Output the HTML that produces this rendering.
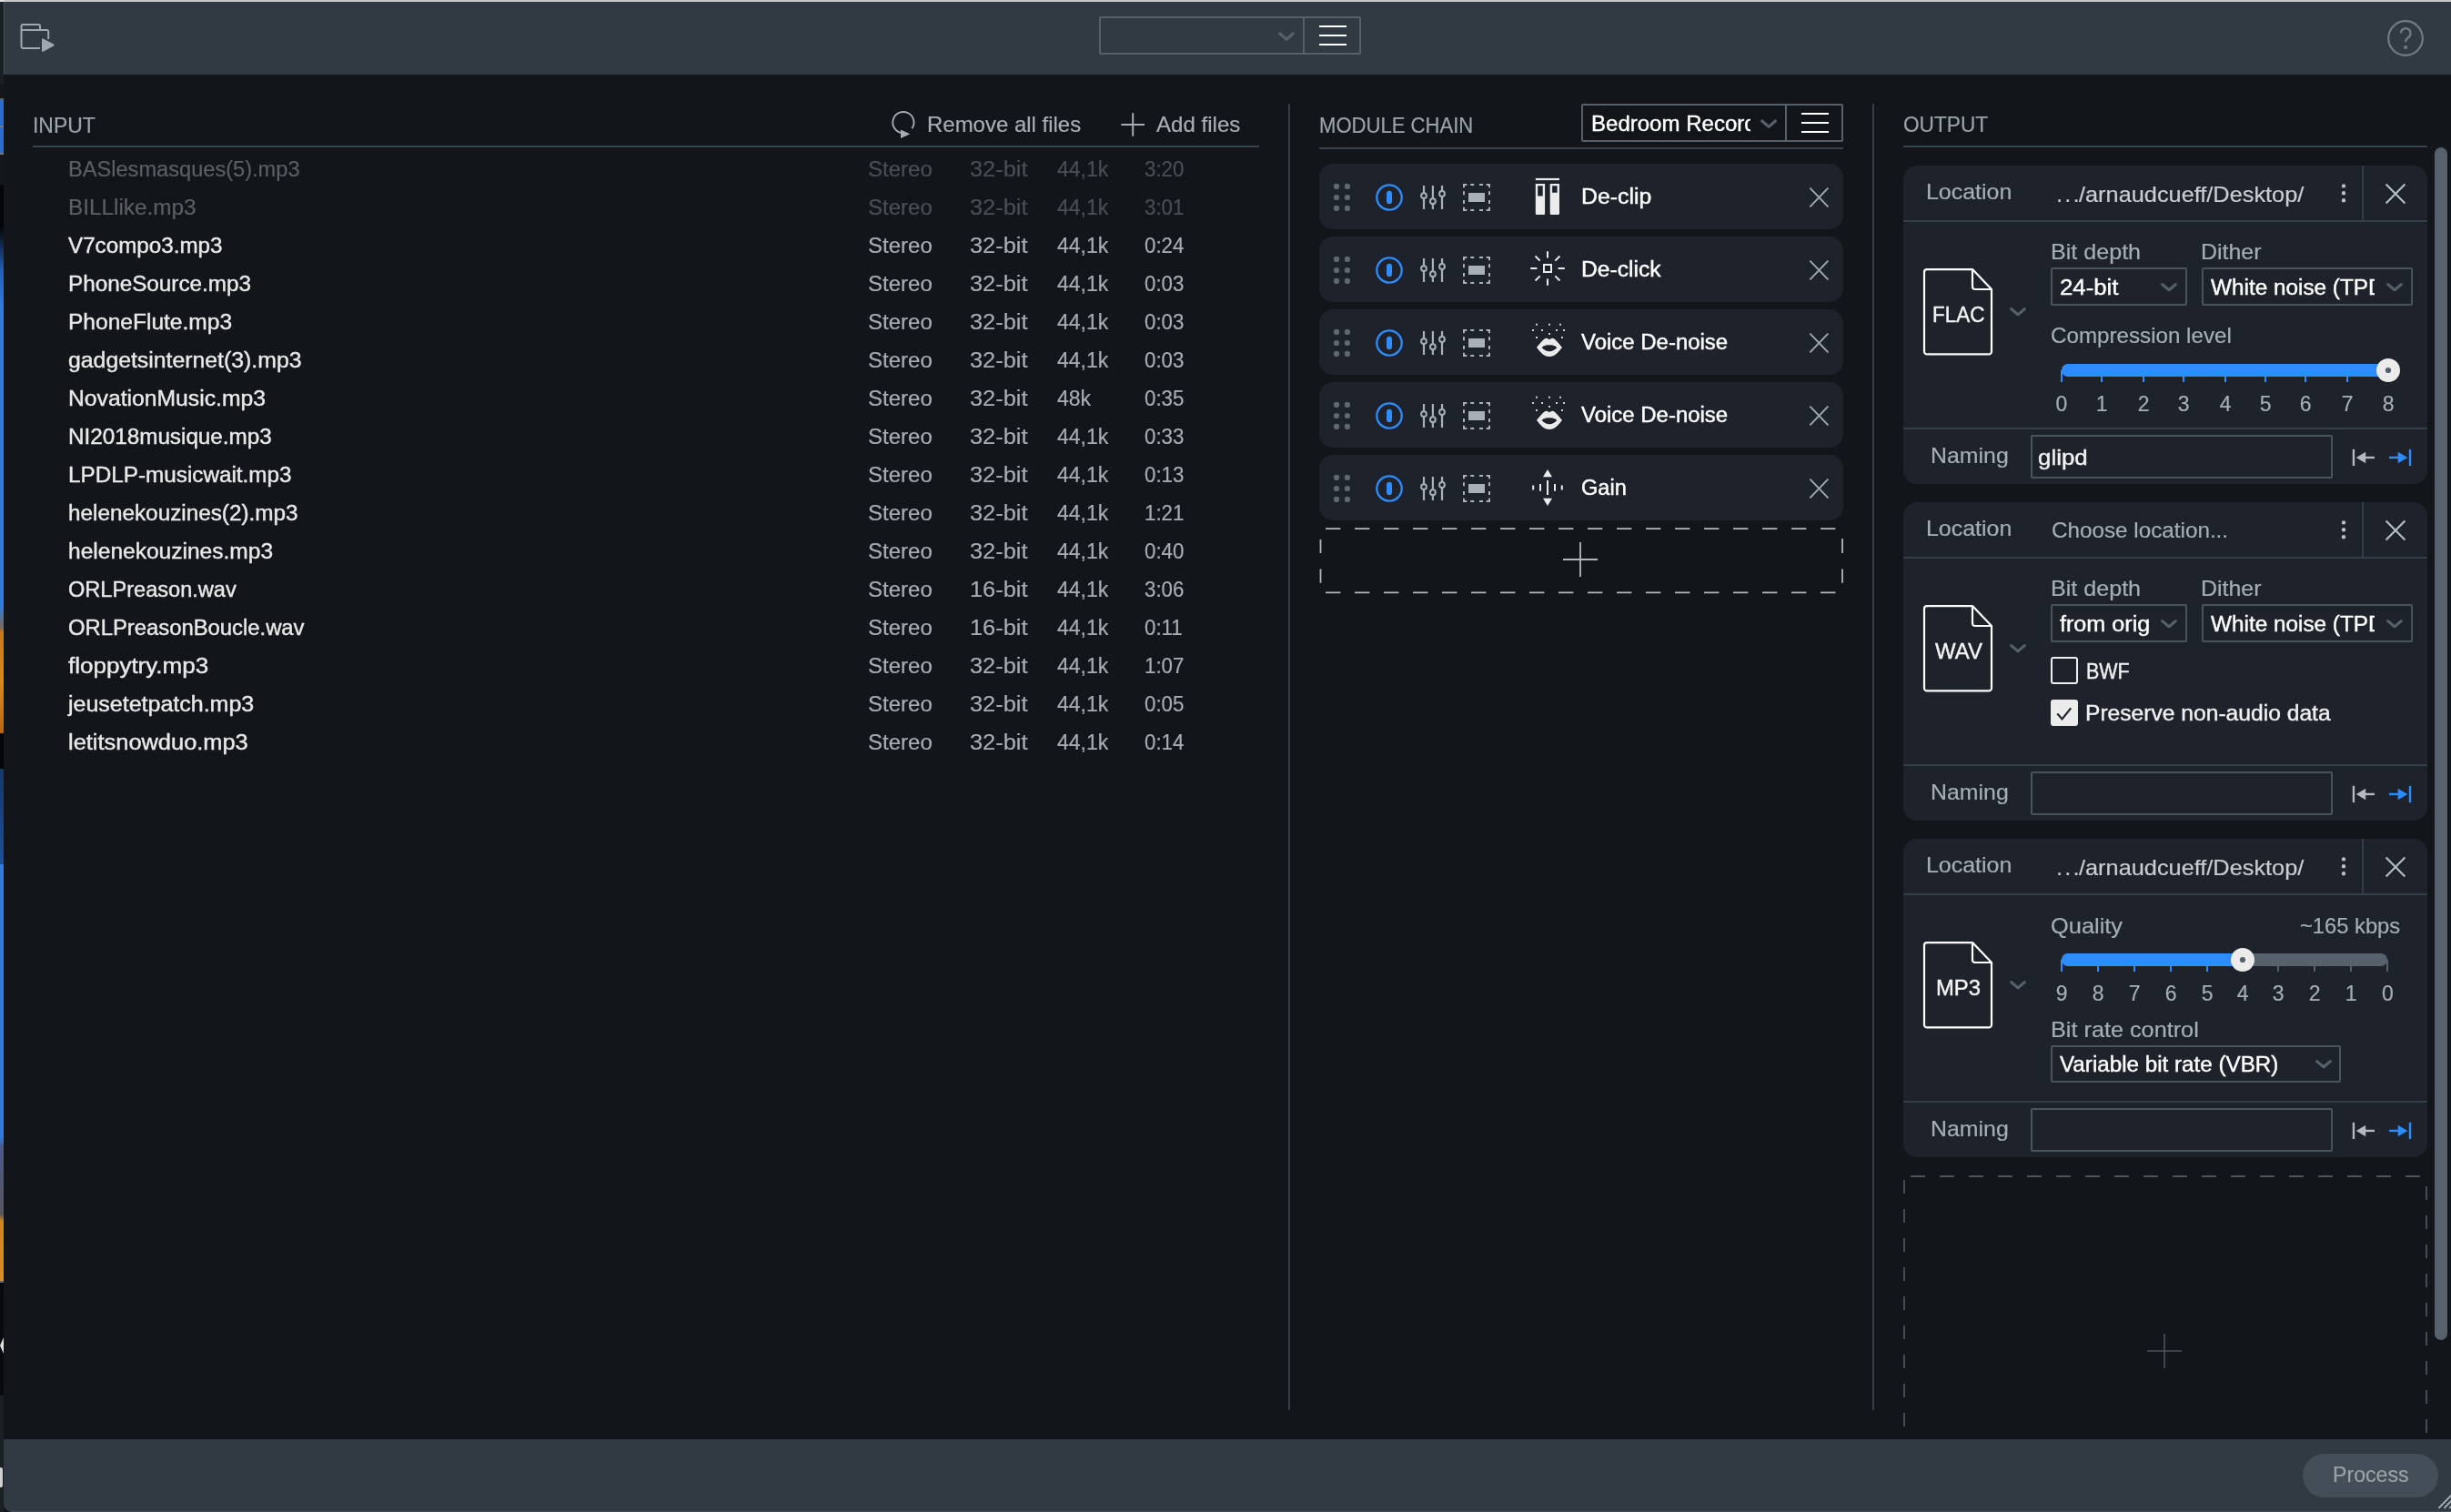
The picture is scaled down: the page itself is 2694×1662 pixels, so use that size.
<!DOCTYPE html>
<html><head><meta charset="utf-8"><title>Batch Processor</title>
<style>
html,body{margin:0;padding:0;background:#12151a;}
body{width:2694px;height:1662px;position:relative;overflow:hidden;font-family:"Liberation Sans",sans-serif;}
#r{position:absolute;left:0;top:0;width:2694px;height:1662px;overflow:hidden;will-change:transform;}
#r div,#r svg,#r span.t{position:absolute;display:block;}
#r span.t{white-space:nowrap;transform-origin:0 50%;-webkit-text-stroke:0.2px currentColor;}
</style></head><body><div id="r">
<div style="left:4px;top:0px;width:2690px;height:2px;background:#c9c9c9;"></div>
<div style="left:0px;top:0px;width:4px;height:2px;background:#e0e0e0;"></div>
<div style="left:0;top:2px;width:4px;height:1660px;background:linear-gradient(to bottom,#1b2024 0px,#1b2024 90px,#14181c 90px,#14181c 106px,#5a5f64 106px,#5a5f64 108px,#2a6fd0 108px,#2a6fd0 136px,#777 136px,#777 138px,#2a6fd0 138px,#2a6fd0 166px,#777 166px,#777 168px,#14181c 168px,#14181c 201px,#050608 201px,#050608 248px,#2463bd 298px,#2f7be0 338px,#2f7be0 663px,#7a6a5a 688px,#c87a14 693px,#d88a18 748px,#b8680f 804px,#050608 804px,#050608 843px,#17386b 843px,#1d4f99 948px,#2f7be0 948px,#2f7be0 1248px,#4a5a8a 1258px,#5a5560 1333px,#d08518 1340px,#d89020 1406px,#666 1406px,#666 1408px,#08090c 1408px,#08090c 1532px,#1b2024 1532px,#1b2024 1660px)"></div>
<svg style="left:0px;top:1466px;" width="4" height="26" viewBox="0 0 4 26"><path d="M4 4 L0 13 L4 22 Z" fill="#e0e0e0"/></svg>
<div style="left:0px;top:1613px;width:3px;height:22px;background:#d0d0d0;border-radius:0 2px 2px 0"></div>
<div style="left:4px;top:2px;width:2690px;height:80px;background:#313943;"></div>
<div style="left:4px;top:2px;width:1px;height:80px;background:#4a545e;"></div>
<div style="left:4px;top:1582px;width:2690px;height:80px;background:#313943;border-bottom-left-radius:9px"></div>
<svg style="left:18px;top:22px;" width="48" height="40" viewBox="0 0 48 40"><path d="M26 31 H7.3 a1.8 1.8 0 0 1 -1.8 -1.8 V6.8 a1.8 1.8 0 0 1 1.8 -1.8 H24.2 a1.8 1.8 0 0 1 1.8 1.8 V11 H33.4 a1.8 1.8 0 0 1 1.8 1.8 V21 M5.5 11 H26" fill="none" stroke="#a0a6ad" stroke-width="2"/><path d="M29 21.3 L40.5 27.5 L29 33.8 Z" fill="#a0a6ad" stroke="#a0a6ad" stroke-width="2" stroke-linejoin="round"/></svg>
<div style="left:1208px;top:18px;width:284px;height:38px;border:2px solid #56616c;border-radius:2px;"></div>
<div style="left:1432px;top:19px;width:2px;height:40px;background:#56616c;"></div>
<svg style="left:1400px;top:30px;" width="30" height="20" viewBox="0 0 30 20"><path d="M6.7 6.9 L14 13.2 L21.3 6.9" fill="none" stroke="#56616c" stroke-width="3.2" stroke-linecap="round" stroke-linejoin="round"/></svg>
<div style="left:1450px;top:28px;width:30px;height:2px;background:#ffffff;"></div>
<div style="left:1450px;top:38px;width:30px;height:2px;background:#ffffff;"></div>
<div style="left:1450px;top:48px;width:30px;height:2px;background:#ffffff;"></div>
<svg style="left:2620px;top:18px;" width="48" height="48" viewBox="0 0 48 48"><circle cx="24" cy="24" r="18.8" fill="none" stroke="#6f7b87" stroke-width="2.2"/><path d="M18.8 18.6 a5.4 5.4 0 1 1 8.5 4.4 c-2.2 1.5 -3.1 2.4 -3.1 4.4 v0.8" fill="none" stroke="#6f7b87" stroke-width="2.2"/><circle cx="24.1" cy="34" r="2.1" fill="#6f7b87"/></svg>
<div style="left:2530.5px;top:1598px;width:149px;height:47.5px;background:#444e58;border-radius:24px"></div>
<span class="t" style="left:2564.30px;top:1609.81px;font-size:23.5px;line-height:23.5px;color:#9aa0a6;transform:scaleX(0.9843);">Process</span>
<svg style="left:2660px;top:1632px;" width="34" height="30" viewBox="0 0 34 30"><path d="M20.4 25.8 L34.5 11.4 M26.4 25.8 L34.5 17.6 M32.3 25.8 L34.5 23.6" stroke="#a9b2bd" stroke-width="1.8" fill="none"/></svg>
<div style="left:12px;top:1661px;width:2682px;height:1px;background:#454f59;"></div>
<span class="t" style="left:35.80px;top:127.06px;font-size:23.2px;line-height:23.2px;color:#9aa2aa;transform:scaleX(0.9885);">INPUT</span>
<div style="left:36px;top:160px;width:1348px;height:2px;background:#38424c;"></div>
<div style="left:1416px;top:114px;width:2px;height:1436px;background:#353f48;"></div>
<div style="left:2058px;top:114px;width:2px;height:1436px;background:#353f48;"></div>
<svg style="left:970px;top:116px;" width="44" height="40" viewBox="0 0 44 40"><path d="M32.40 25.25 A11.6 11.6 0 1 0 20.89 30.02" fill="none" stroke="#a7adb4" stroke-width="1.9"/><path d="M20 26.5 L30.4 31.3 L20 36 Z" fill="#a7adb4"/></svg>
<span class="t" style="left:1019.40px;top:125.96px;font-size:23.2px;line-height:23.2px;color:#a7adb4;transform:scaleX(1.0336);">Remove all files</span>
<svg style="left:1230px;top:122px;" width="30" height="30" viewBox="0 0 30 30"><path d="M2.4 15 H28 M15.2 2.2 V27.8" stroke="#a7adb4" stroke-width="2" fill="none"/></svg>
<span class="t" style="left:1271.30px;top:125.96px;font-size:23.2px;line-height:23.2px;color:#a7adb4;transform:scaleX(1.0385);">Add files</span>
<span class="t" style="left:74.60px;top:175.23px;font-size:23px;line-height:23px;color:#5c5f64;transform:scaleX(1.0264);">BASlesmasques(5).mp3</span>
<span class="t" style="left:954.10px;top:175.23px;font-size:23px;line-height:23px;color:#4b4f55;transform:scaleX(1.0438);">Stereo</span>
<span class="t" style="left:1066.10px;top:175.23px;font-size:23px;line-height:23px;color:#4b4f55;transform:scaleX(1.1026);">32-bit</span>
<span class="t" style="left:1161.60px;top:175.23px;font-size:23px;line-height:23px;color:#4b4f55;transform:scaleX(1.0009);">44,1k</span>
<span class="t" style="left:1258.00px;top:175.23px;font-size:23px;line-height:23px;color:#4b4f55;transform:scaleX(0.9702);">3:20</span>
<span class="t" style="left:74.60px;top:217.23px;font-size:23px;line-height:23px;color:#5c5f64;transform:scaleX(1.0576);">BILLlike.mp3</span>
<span class="t" style="left:954.10px;top:217.23px;font-size:23px;line-height:23px;color:#4b4f55;transform:scaleX(1.0438);">Stereo</span>
<span class="t" style="left:1066.10px;top:217.23px;font-size:23px;line-height:23px;color:#4b4f55;transform:scaleX(1.1026);">32-bit</span>
<span class="t" style="left:1161.60px;top:217.23px;font-size:23px;line-height:23px;color:#4b4f55;transform:scaleX(1.0009);">44,1k</span>
<span class="t" style="left:1258.00px;top:217.23px;font-size:23px;line-height:23px;color:#4b4f55;transform:scaleX(0.9702);">3:01</span>
<span class="t" style="left:74.60px;top:259.23px;font-size:23px;line-height:23px;color:#e9e9e9;transform:scaleX(1.0520);-webkit-text-stroke-width:0.4px;">V7compo3.mp3</span>
<span class="t" style="left:954.10px;top:259.23px;font-size:23px;line-height:23px;color:#a7adb4;transform:scaleX(1.0438);">Stereo</span>
<span class="t" style="left:1066.10px;top:259.23px;font-size:23px;line-height:23px;color:#a7adb4;transform:scaleX(1.1026);">32-bit</span>
<span class="t" style="left:1161.60px;top:259.23px;font-size:23px;line-height:23px;color:#a7adb4;transform:scaleX(1.0009);">44,1k</span>
<span class="t" style="left:1258.00px;top:259.23px;font-size:23px;line-height:23px;color:#a7adb4;transform:scaleX(0.9702);">0:24</span>
<span class="t" style="left:74.60px;top:301.23px;font-size:23px;line-height:23px;color:#e9e9e9;transform:scaleX(1.0548);-webkit-text-stroke-width:0.4px;">PhoneSource.mp3</span>
<span class="t" style="left:954.10px;top:301.23px;font-size:23px;line-height:23px;color:#a7adb4;transform:scaleX(1.0438);">Stereo</span>
<span class="t" style="left:1066.10px;top:301.23px;font-size:23px;line-height:23px;color:#a7adb4;transform:scaleX(1.1026);">32-bit</span>
<span class="t" style="left:1161.60px;top:301.23px;font-size:23px;line-height:23px;color:#a7adb4;transform:scaleX(1.0009);">44,1k</span>
<span class="t" style="left:1258.00px;top:301.23px;font-size:23px;line-height:23px;color:#a7adb4;transform:scaleX(0.9702);">0:03</span>
<span class="t" style="left:74.60px;top:343.23px;font-size:23px;line-height:23px;color:#e9e9e9;transform:scaleX(1.0668);-webkit-text-stroke-width:0.4px;">PhoneFlute.mp3</span>
<span class="t" style="left:954.10px;top:343.23px;font-size:23px;line-height:23px;color:#a7adb4;transform:scaleX(1.0438);">Stereo</span>
<span class="t" style="left:1066.10px;top:343.23px;font-size:23px;line-height:23px;color:#a7adb4;transform:scaleX(1.1026);">32-bit</span>
<span class="t" style="left:1161.60px;top:343.23px;font-size:23px;line-height:23px;color:#a7adb4;transform:scaleX(1.0009);">44,1k</span>
<span class="t" style="left:1258.00px;top:343.23px;font-size:23px;line-height:23px;color:#a7adb4;transform:scaleX(0.9702);">0:03</span>
<span class="t" style="left:74.60px;top:385.23px;font-size:23px;line-height:23px;color:#e9e9e9;transform:scaleX(1.0785);-webkit-text-stroke-width:0.4px;">gadgetsinternet(3).mp3</span>
<span class="t" style="left:954.10px;top:385.23px;font-size:23px;line-height:23px;color:#a7adb4;transform:scaleX(1.0438);">Stereo</span>
<span class="t" style="left:1066.10px;top:385.23px;font-size:23px;line-height:23px;color:#a7adb4;transform:scaleX(1.1026);">32-bit</span>
<span class="t" style="left:1161.60px;top:385.23px;font-size:23px;line-height:23px;color:#a7adb4;transform:scaleX(1.0009);">44,1k</span>
<span class="t" style="left:1258.00px;top:385.23px;font-size:23px;line-height:23px;color:#a7adb4;transform:scaleX(0.9702);">0:03</span>
<span class="t" style="left:74.60px;top:427.23px;font-size:23px;line-height:23px;color:#e9e9e9;transform:scaleX(1.0741);-webkit-text-stroke-width:0.4px;">NovationMusic.mp3</span>
<span class="t" style="left:954.10px;top:427.23px;font-size:23px;line-height:23px;color:#a7adb4;transform:scaleX(1.0438);">Stereo</span>
<span class="t" style="left:1066.10px;top:427.23px;font-size:23px;line-height:23px;color:#a7adb4;transform:scaleX(1.1026);">32-bit</span>
<span class="t" style="left:1161.60px;top:427.23px;font-size:23px;line-height:23px;color:#a7adb4;transform:scaleX(1.0009);">48k</span>
<span class="t" style="left:1258.00px;top:427.23px;font-size:23px;line-height:23px;color:#a7adb4;transform:scaleX(0.9702);">0:35</span>
<span class="t" style="left:74.60px;top:469.23px;font-size:23px;line-height:23px;color:#e9e9e9;transform:scaleX(1.0542);-webkit-text-stroke-width:0.4px;">NI2018musique.mp3</span>
<span class="t" style="left:954.10px;top:469.23px;font-size:23px;line-height:23px;color:#a7adb4;transform:scaleX(1.0438);">Stereo</span>
<span class="t" style="left:1066.10px;top:469.23px;font-size:23px;line-height:23px;color:#a7adb4;transform:scaleX(1.1026);">32-bit</span>
<span class="t" style="left:1161.60px;top:469.23px;font-size:23px;line-height:23px;color:#a7adb4;transform:scaleX(1.0009);">44,1k</span>
<span class="t" style="left:1258.00px;top:469.23px;font-size:23px;line-height:23px;color:#a7adb4;transform:scaleX(0.9702);">0:33</span>
<span class="t" style="left:74.60px;top:511.23px;font-size:23px;line-height:23px;color:#e9e9e9;transform:scaleX(1.0557);-webkit-text-stroke-width:0.4px;">LPDLP-musicwait.mp3</span>
<span class="t" style="left:954.10px;top:511.23px;font-size:23px;line-height:23px;color:#a7adb4;transform:scaleX(1.0438);">Stereo</span>
<span class="t" style="left:1066.10px;top:511.23px;font-size:23px;line-height:23px;color:#a7adb4;transform:scaleX(1.1026);">32-bit</span>
<span class="t" style="left:1161.60px;top:511.23px;font-size:23px;line-height:23px;color:#a7adb4;transform:scaleX(1.0009);">44,1k</span>
<span class="t" style="left:1258.00px;top:511.23px;font-size:23px;line-height:23px;color:#a7adb4;transform:scaleX(0.9702);">0:13</span>
<span class="t" style="left:74.60px;top:553.23px;font-size:23px;line-height:23px;color:#e9e9e9;transform:scaleX(1.0565);-webkit-text-stroke-width:0.4px;">helenekouzines(2).mp3</span>
<span class="t" style="left:954.10px;top:553.23px;font-size:23px;line-height:23px;color:#a7adb4;transform:scaleX(1.0438);">Stereo</span>
<span class="t" style="left:1066.10px;top:553.23px;font-size:23px;line-height:23px;color:#a7adb4;transform:scaleX(1.1026);">32-bit</span>
<span class="t" style="left:1161.60px;top:553.23px;font-size:23px;line-height:23px;color:#a7adb4;transform:scaleX(1.0009);">44,1k</span>
<span class="t" style="left:1258.00px;top:553.23px;font-size:23px;line-height:23px;color:#a7adb4;transform:scaleX(0.9702);">1:21</span>
<span class="t" style="left:74.60px;top:595.23px;font-size:23px;line-height:23px;color:#e9e9e9;transform:scaleX(1.0667);-webkit-text-stroke-width:0.4px;">helenekouzines.mp3</span>
<span class="t" style="left:954.10px;top:595.23px;font-size:23px;line-height:23px;color:#a7adb4;transform:scaleX(1.0438);">Stereo</span>
<span class="t" style="left:1066.10px;top:595.23px;font-size:23px;line-height:23px;color:#a7adb4;transform:scaleX(1.1026);">32-bit</span>
<span class="t" style="left:1161.60px;top:595.23px;font-size:23px;line-height:23px;color:#a7adb4;transform:scaleX(1.0009);">44,1k</span>
<span class="t" style="left:1258.00px;top:595.23px;font-size:23px;line-height:23px;color:#a7adb4;transform:scaleX(0.9702);">0:40</span>
<span class="t" style="left:74.60px;top:637.23px;font-size:23px;line-height:23px;color:#e9e9e9;transform:scaleX(1.0249);-webkit-text-stroke-width:0.4px;">ORLPreason.wav</span>
<span class="t" style="left:954.10px;top:637.23px;font-size:23px;line-height:23px;color:#a7adb4;transform:scaleX(1.0438);">Stereo</span>
<span class="t" style="left:1066.10px;top:637.23px;font-size:23px;line-height:23px;color:#a7adb4;transform:scaleX(1.1026);">16-bit</span>
<span class="t" style="left:1161.60px;top:637.23px;font-size:23px;line-height:23px;color:#a7adb4;transform:scaleX(1.0009);">44,1k</span>
<span class="t" style="left:1258.00px;top:637.23px;font-size:23px;line-height:23px;color:#a7adb4;transform:scaleX(0.9702);">3:06</span>
<span class="t" style="left:74.60px;top:679.23px;font-size:23px;line-height:23px;color:#e9e9e9;transform:scaleX(1.0356);-webkit-text-stroke-width:0.4px;">ORLPreasonBoucle.wav</span>
<span class="t" style="left:954.10px;top:679.23px;font-size:23px;line-height:23px;color:#a7adb4;transform:scaleX(1.0438);">Stereo</span>
<span class="t" style="left:1066.10px;top:679.23px;font-size:23px;line-height:23px;color:#a7adb4;transform:scaleX(1.1026);">16-bit</span>
<span class="t" style="left:1161.60px;top:679.23px;font-size:23px;line-height:23px;color:#a7adb4;transform:scaleX(1.0009);">44,1k</span>
<span class="t" style="left:1258.00px;top:679.23px;font-size:23px;line-height:23px;color:#a7adb4;transform:scaleX(0.9702);">0:11</span>
<span class="t" style="left:74.60px;top:721.23px;font-size:23px;line-height:23px;color:#e9e9e9;transform:scaleX(1.1306);-webkit-text-stroke-width:0.4px;">floppytry.mp3</span>
<span class="t" style="left:954.10px;top:721.23px;font-size:23px;line-height:23px;color:#a7adb4;transform:scaleX(1.0438);">Stereo</span>
<span class="t" style="left:1066.10px;top:721.23px;font-size:23px;line-height:23px;color:#a7adb4;transform:scaleX(1.1026);">32-bit</span>
<span class="t" style="left:1161.60px;top:721.23px;font-size:23px;line-height:23px;color:#a7adb4;transform:scaleX(1.0009);">44,1k</span>
<span class="t" style="left:1258.00px;top:721.23px;font-size:23px;line-height:23px;color:#a7adb4;transform:scaleX(0.9702);">1:07</span>
<span class="t" style="left:75.22px;top:763.23px;font-size:23px;line-height:23px;color:#e9e9e9;transform:scaleX(1.0866);-webkit-text-stroke-width:0.4px;">jeusetetpatch.mp3</span>
<span class="t" style="left:954.10px;top:763.23px;font-size:23px;line-height:23px;color:#a7adb4;transform:scaleX(1.0438);">Stereo</span>
<span class="t" style="left:1066.10px;top:763.23px;font-size:23px;line-height:23px;color:#a7adb4;transform:scaleX(1.1026);">32-bit</span>
<span class="t" style="left:1161.60px;top:763.23px;font-size:23px;line-height:23px;color:#a7adb4;transform:scaleX(1.0009);">44,1k</span>
<span class="t" style="left:1258.00px;top:763.23px;font-size:23px;line-height:23px;color:#a7adb4;transform:scaleX(0.9702);">0:05</span>
<span class="t" style="left:74.60px;top:805.23px;font-size:23px;line-height:23px;color:#e9e9e9;transform:scaleX(1.1048);-webkit-text-stroke-width:0.4px;">letitsnowduo.mp3</span>
<span class="t" style="left:954.10px;top:805.23px;font-size:23px;line-height:23px;color:#a7adb4;transform:scaleX(1.0438);">Stereo</span>
<span class="t" style="left:1066.10px;top:805.23px;font-size:23px;line-height:23px;color:#a7adb4;transform:scaleX(1.1026);">32-bit</span>
<span class="t" style="left:1161.60px;top:805.23px;font-size:23px;line-height:23px;color:#a7adb4;transform:scaleX(1.0009);">44,1k</span>
<span class="t" style="left:1258.00px;top:805.23px;font-size:23px;line-height:23px;color:#a7adb4;transform:scaleX(0.9702);">0:14</span>
<span class="t" style="left:1450.00px;top:127.11px;font-size:23.5px;line-height:23.5px;color:#9aa2aa;transform:scaleX(0.9393);">MODULE CHAIN</span>
<div style="left:1450px;top:162px;width:576px;height:2px;background:#38424c;"></div>
<div style="left:1738px;top:114px;width:284px;height:38px;border:2px solid #56616c;border-radius:2px;"></div>
<div style="left:1962px;top:115px;width:2px;height:40px;background:#56616c;"></div>
<div style="left:1745px;top:120.64px;width:178.7px;height:33.7px;overflow:hidden"><span class="t" style="left:3.70px;top:4px;font-size:23.7px;line-height:23.7px;color:#ffffff;transform:scaleX(1.0143);-webkit-text-stroke-width:0.4px;">Bedroom Record</span></div>
<svg style="left:1930px;top:126px;" width="28" height="20" viewBox="0 0 28 20"><path d="M6.8 7 L14.1 13.4 L21.4 7" fill="none" stroke="#56616c" stroke-width="3.2" stroke-linecap="round" stroke-linejoin="round"/></svg>
<div style="left:1980px;top:124px;width:30px;height:2px;background:#ffffff;"></div>
<div style="left:1980px;top:134px;width:30px;height:2px;background:#ffffff;"></div>
<div style="left:1980px;top:144px;width:30px;height:2px;background:#ffffff;"></div>
<div style="left:1450px;top:180px;width:576px;height:72px;background:#1e232b;border-radius:15px"></div>
<svg style="left:1450px;top:180px;" width="576" height="72" viewBox="0 0 576 72"><circle cx="19" cy="24.9" r="3.1" fill="#606972"/><circle cx="19" cy="37" r="3.1" fill="#606972"/><circle cx="19" cy="48.9" r="3.1" fill="#606972"/><circle cx="30.9" cy="24.9" r="3.1" fill="#606972"/><circle cx="30.9" cy="37" r="3.1" fill="#606972"/><circle cx="30.9" cy="48.9" r="3.1" fill="#606972"/><circle cx="77" cy="37" r="13.7" fill="none" stroke="#2f8cff" stroke-width="2.3"/><rect x="74" y="29.8" width="6" height="14.4" rx="3" fill="#2f8cff"/><path d="M115 24.1 V50 M124.9 24.1 V50 M135 24.1 V50" stroke="#aab0b7" stroke-width="2.2" fill="none"/><circle cx="115" cy="35.1" r="2.9" fill="#1e232b" stroke="#aab0b7" stroke-width="2"/><circle cx="124.9" cy="41.2" r="2.9" fill="#1e232b" stroke="#aab0b7" stroke-width="2"/><circle cx="135" cy="33" r="2.9" fill="#1e232b" stroke="#aab0b7" stroke-width="2"/><path d="M159 26.3 V23 H162.3 M183.7 23 H187 V26.3 M187 47.7 V51 H183.7 M162.3 51 H159 V47.7 M166.2 23 H170.2 M166.2 51 H170.2 M159 30.2 V34.2 M187 30.2 V34.2 M176 23 H180 M176 51 H180 M159 40 V44 M187 40 V44 " stroke="#aab0b7" stroke-width="2" fill="none"/><rect x="164" y="32" width="18" height="10" fill="#aab0b7"/><rect x="237.8" y="15.9" width="26.2" height="2.2" fill="#ebebeb"/><path d="M237.8 22 h10.3 v32.5 a1.5 1.5 0 0 1 -1.5 1.5 h-7.3 a1.5 1.5 0 0 1 -1.5 -1.5 Z M240.2 24.2 v11.3 h5.5 v-11.3 Z" fill="#ebebeb" fill-rule="evenodd"/><path d="M253.7 22 h10.3 v32.5 a1.5 1.5 0 0 1 -1.5 1.5 h-7.3 a1.5 1.5 0 0 1 -1.5 -1.5 Z M256.1 24.2 v7.6 h5.5 v-7.6 Z" fill="#ebebeb" fill-rule="evenodd"/><path d="M539.4 26.6 L559.4 47.4 M559.4 26.6 L539.4 47.4" stroke="#a3a9b0" stroke-width="1.9" fill="none"/></svg>
<span class="t" style="left:1737.60px;top:204.38px;font-size:24.6px;line-height:24.6px;color:#ffffff;transform:scaleX(1.0091);-webkit-text-stroke-width:0.4px;-webkit-text-stroke-width:0.45px;">De-clip</span>
<div style="left:1450px;top:260px;width:576px;height:72px;background:#1e232b;border-radius:15px"></div>
<svg style="left:1450px;top:260px;" width="576" height="72" viewBox="0 0 576 72"><circle cx="19" cy="24.9" r="3.1" fill="#606972"/><circle cx="19" cy="37" r="3.1" fill="#606972"/><circle cx="19" cy="48.9" r="3.1" fill="#606972"/><circle cx="30.9" cy="24.9" r="3.1" fill="#606972"/><circle cx="30.9" cy="37" r="3.1" fill="#606972"/><circle cx="30.9" cy="48.9" r="3.1" fill="#606972"/><circle cx="77" cy="37" r="13.7" fill="none" stroke="#2f8cff" stroke-width="2.3"/><rect x="74" y="29.8" width="6" height="14.4" rx="3" fill="#2f8cff"/><path d="M115 24.1 V50 M124.9 24.1 V50 M135 24.1 V50" stroke="#aab0b7" stroke-width="2.2" fill="none"/><circle cx="115" cy="35.1" r="2.9" fill="#1e232b" stroke="#aab0b7" stroke-width="2"/><circle cx="124.9" cy="41.2" r="2.9" fill="#1e232b" stroke="#aab0b7" stroke-width="2"/><circle cx="135" cy="33" r="2.9" fill="#1e232b" stroke="#aab0b7" stroke-width="2"/><path d="M159 26.3 V23 H162.3 M183.7 23 H187 V26.3 M187 47.7 V51 H183.7 M162.3 51 H159 V47.7 M166.2 23 H170.2 M166.2 51 H170.2 M159 30.2 V34.2 M187 30.2 V34.2 M176 23 H180 M176 51 H180 M159 40 V44 M187 40 V44 " stroke="#aab0b7" stroke-width="2" fill="none"/><rect x="164" y="32" width="18" height="10" fill="#aab0b7"/><rect x="247" y="31" width="8" height="8" fill="none" stroke="#ebebeb" stroke-width="2"/><path d="M262.60 35.00 L269.80 35.00 M259.34 43.34 L264.44 48.44 M251.00 46.60 L251.00 53.80 M242.66 43.34 L237.56 48.44 M239.40 35.00 L232.20 35.00 M242.66 26.66 L237.56 21.56 M251.00 23.40 L251.00 16.20 M259.34 26.66 L264.44 21.56 " stroke="#ebebeb" stroke-width="2" fill="none"/><path d="M539.4 26.6 L559.4 47.4 M559.4 26.6 L539.4 47.4" stroke="#a3a9b0" stroke-width="1.9" fill="none"/></svg>
<span class="t" style="left:1737.60px;top:284.38px;font-size:24.6px;line-height:24.6px;color:#ffffff;transform:scaleX(1.0014);-webkit-text-stroke-width:0.4px;-webkit-text-stroke-width:0.45px;">De-click</span>
<div style="left:1450px;top:340px;width:576px;height:72px;background:#1e232b;border-radius:15px"></div>
<svg style="left:1450px;top:340px;" width="576" height="72" viewBox="0 0 576 72"><circle cx="19" cy="24.9" r="3.1" fill="#606972"/><circle cx="19" cy="37" r="3.1" fill="#606972"/><circle cx="19" cy="48.9" r="3.1" fill="#606972"/><circle cx="30.9" cy="24.9" r="3.1" fill="#606972"/><circle cx="30.9" cy="37" r="3.1" fill="#606972"/><circle cx="30.9" cy="48.9" r="3.1" fill="#606972"/><circle cx="77" cy="37" r="13.7" fill="none" stroke="#2f8cff" stroke-width="2.3"/><rect x="74" y="29.8" width="6" height="14.4" rx="3" fill="#2f8cff"/><path d="M115 24.1 V50 M124.9 24.1 V50 M135 24.1 V50" stroke="#aab0b7" stroke-width="2.2" fill="none"/><circle cx="115" cy="35.1" r="2.9" fill="#1e232b" stroke="#aab0b7" stroke-width="2"/><circle cx="124.9" cy="41.2" r="2.9" fill="#1e232b" stroke="#aab0b7" stroke-width="2"/><circle cx="135" cy="33" r="2.9" fill="#1e232b" stroke="#aab0b7" stroke-width="2"/><path d="M159 26.3 V23 H162.3 M183.7 23 H187 V26.3 M187 47.7 V51 H183.7 M162.3 51 H159 V47.7 M166.2 23 H170.2 M166.2 51 H170.2 M159 30.2 V34.2 M187 30.2 V34.2 M176 23 H180 M176 51 H180 M159 40 V44 M187 40 V44 " stroke="#aab0b7" stroke-width="2" fill="none"/><rect x="164" y="32" width="18" height="10" fill="#aab0b7"/><rect x="238" y="15.7" width="2" height="2" fill="#d0d0d0"/><rect x="252" y="15.7" width="2" height="2" fill="#d0d0d0"/><rect x="264" y="15.7" width="2" height="2" fill="#d0d0d0"/><rect x="234" y="22" width="2" height="2" fill="#d0d0d0"/><rect x="244" y="22" width="2" height="2" fill="#d0d0d0"/><rect x="260" y="22" width="2" height="2" fill="#d0d0d0"/><rect x="268" y="22" width="2" height="2" fill="#d0d0d0"/><rect x="252" y="26" width="2" height="2" fill="#d0d0d0"/><rect x="238" y="30" width="2" height="2" fill="#d0d0d0"/><rect x="266" y="30" width="2" height="2" fill="#d0d0d0"/><path d="M239 42 C242 38 246 33.2 248.6 32 C250.2 31.4 251.6 32.4 253 33.4 C254.4 32.4 255.8 31.4 257.4 32 C260 33.2 264 38 267 42 C263 47 259 52 253 52 C247 52 243 47 239 42 Z M244.6 42 C247 39.6 250 39.2 253 39.2 C256 39.2 259 39.6 261.4 42 C259 44.6 256.4 46.2 253 46.2 C249.6 46.2 247 44.6 244.6 42 Z" fill="#ebebeb" fill-rule="evenodd"/><path d="M539.4 26.6 L559.4 47.4 M559.4 26.6 L539.4 47.4" stroke="#a3a9b0" stroke-width="1.9" fill="none"/></svg>
<span class="t" style="left:1737.60px;top:364.38px;font-size:24.6px;line-height:24.6px;color:#ffffff;transform:scaleX(0.9744);-webkit-text-stroke-width:0.4px;-webkit-text-stroke-width:0.45px;">Voice De-noise</span>
<div style="left:1450px;top:420px;width:576px;height:72px;background:#1e232b;border-radius:15px"></div>
<svg style="left:1450px;top:420px;" width="576" height="72" viewBox="0 0 576 72"><circle cx="19" cy="24.9" r="3.1" fill="#606972"/><circle cx="19" cy="37" r="3.1" fill="#606972"/><circle cx="19" cy="48.9" r="3.1" fill="#606972"/><circle cx="30.9" cy="24.9" r="3.1" fill="#606972"/><circle cx="30.9" cy="37" r="3.1" fill="#606972"/><circle cx="30.9" cy="48.9" r="3.1" fill="#606972"/><circle cx="77" cy="37" r="13.7" fill="none" stroke="#2f8cff" stroke-width="2.3"/><rect x="74" y="29.8" width="6" height="14.4" rx="3" fill="#2f8cff"/><path d="M115 24.1 V50 M124.9 24.1 V50 M135 24.1 V50" stroke="#aab0b7" stroke-width="2.2" fill="none"/><circle cx="115" cy="35.1" r="2.9" fill="#1e232b" stroke="#aab0b7" stroke-width="2"/><circle cx="124.9" cy="41.2" r="2.9" fill="#1e232b" stroke="#aab0b7" stroke-width="2"/><circle cx="135" cy="33" r="2.9" fill="#1e232b" stroke="#aab0b7" stroke-width="2"/><path d="M159 26.3 V23 H162.3 M183.7 23 H187 V26.3 M187 47.7 V51 H183.7 M162.3 51 H159 V47.7 M166.2 23 H170.2 M166.2 51 H170.2 M159 30.2 V34.2 M187 30.2 V34.2 M176 23 H180 M176 51 H180 M159 40 V44 M187 40 V44 " stroke="#aab0b7" stroke-width="2" fill="none"/><rect x="164" y="32" width="18" height="10" fill="#aab0b7"/><rect x="238" y="15.7" width="2" height="2" fill="#d0d0d0"/><rect x="252" y="15.7" width="2" height="2" fill="#d0d0d0"/><rect x="264" y="15.7" width="2" height="2" fill="#d0d0d0"/><rect x="234" y="22" width="2" height="2" fill="#d0d0d0"/><rect x="244" y="22" width="2" height="2" fill="#d0d0d0"/><rect x="260" y="22" width="2" height="2" fill="#d0d0d0"/><rect x="268" y="22" width="2" height="2" fill="#d0d0d0"/><rect x="252" y="26" width="2" height="2" fill="#d0d0d0"/><rect x="238" y="30" width="2" height="2" fill="#d0d0d0"/><rect x="266" y="30" width="2" height="2" fill="#d0d0d0"/><path d="M239 42 C242 38 246 33.2 248.6 32 C250.2 31.4 251.6 32.4 253 33.4 C254.4 32.4 255.8 31.4 257.4 32 C260 33.2 264 38 267 42 C263 47 259 52 253 52 C247 52 243 47 239 42 Z M244.6 42 C247 39.6 250 39.2 253 39.2 C256 39.2 259 39.6 261.4 42 C259 44.6 256.4 46.2 253 46.2 C249.6 46.2 247 44.6 244.6 42 Z" fill="#ebebeb" fill-rule="evenodd"/><path d="M539.4 26.6 L559.4 47.4 M559.4 26.6 L539.4 47.4" stroke="#a3a9b0" stroke-width="1.9" fill="none"/></svg>
<span class="t" style="left:1737.60px;top:444.38px;font-size:24.6px;line-height:24.6px;color:#ffffff;transform:scaleX(0.9744);-webkit-text-stroke-width:0.4px;-webkit-text-stroke-width:0.45px;">Voice De-noise</span>
<div style="left:1450px;top:500px;width:576px;height:72px;background:#1e232b;border-radius:15px"></div>
<svg style="left:1450px;top:500px;" width="576" height="72" viewBox="0 0 576 72"><circle cx="19" cy="24.9" r="3.1" fill="#606972"/><circle cx="19" cy="37" r="3.1" fill="#606972"/><circle cx="19" cy="48.9" r="3.1" fill="#606972"/><circle cx="30.9" cy="24.9" r="3.1" fill="#606972"/><circle cx="30.9" cy="37" r="3.1" fill="#606972"/><circle cx="30.9" cy="48.9" r="3.1" fill="#606972"/><circle cx="77" cy="37" r="13.7" fill="none" stroke="#2f8cff" stroke-width="2.3"/><rect x="74" y="29.8" width="6" height="14.4" rx="3" fill="#2f8cff"/><path d="M115 24.1 V50 M124.9 24.1 V50 M135 24.1 V50" stroke="#aab0b7" stroke-width="2.2" fill="none"/><circle cx="115" cy="35.1" r="2.9" fill="#1e232b" stroke="#aab0b7" stroke-width="2"/><circle cx="124.9" cy="41.2" r="2.9" fill="#1e232b" stroke="#aab0b7" stroke-width="2"/><circle cx="135" cy="33" r="2.9" fill="#1e232b" stroke="#aab0b7" stroke-width="2"/><path d="M159 26.3 V23 H162.3 M183.7 23 H187 V26.3 M187 47.7 V51 H183.7 M162.3 51 H159 V47.7 M166.2 23 H170.2 M166.2 51 H170.2 M159 30.2 V34.2 M187 30.2 V34.2 M176 23 H180 M176 51 H180 M159 40 V44 M187 40 V44 " stroke="#aab0b7" stroke-width="2" fill="none"/><rect x="164" y="32" width="18" height="10" fill="#aab0b7"/><path d="M251 16 L256 24.2 H246 Z M251 56 L256 47.8 H246 Z" fill="#ebebeb"/><path d="M251 28 V44 M243 32 V39.8 M259 32 V39.8 M235.2 33.6 V38.4 M266.8 33.6 V38.4" stroke="#ebebeb" stroke-width="2" fill="none"/><path d="M539.4 26.6 L559.4 47.4 M559.4 26.6 L539.4 47.4" stroke="#a3a9b0" stroke-width="1.9" fill="none"/></svg>
<span class="t" style="left:1737.60px;top:524.38px;font-size:24.6px;line-height:24.6px;color:#ffffff;transform:scaleX(0.9575);-webkit-text-stroke-width:0.4px;-webkit-text-stroke-width:0.45px;">Gain</span>
<svg style="left:0px;top:0px;" width="2694" height="700" viewBox="0 0 2694 700"><path d="M1457 581.2 H1473.4 M1457 651.4 H1473.4 M1489 581.2 H1505.4 M1489 651.4 H1505.4 M1521 581.2 H1537.4 M1521 651.4 H1537.4 M1553 581.2 H1569.4 M1553 651.4 H1569.4 M1585 581.2 H1601.4 M1585 651.4 H1601.4 M1617 581.2 H1633.4 M1617 651.4 H1633.4 M1649 581.2 H1665.4 M1649 651.4 H1665.4 M1681 581.2 H1697.4 M1681 651.4 H1697.4 M1713 581.2 H1729.4 M1713 651.4 H1729.4 M1745 581.2 H1761.4 M1745 651.4 H1761.4 M1777 581.2 H1793.4 M1777 651.4 H1793.4 M1809 581.2 H1825.4 M1809 651.4 H1825.4 M1841 581.2 H1857.4 M1841 651.4 H1857.4 M1873 581.2 H1889.4 M1873 651.4 H1889.4 M1905 581.2 H1921.4 M1905 651.4 H1921.4 M1937 581.2 H1953.4 M1937 651.4 H1953.4 M1969 581.2 H1985.4 M1969 651.4 H1985.4 M2001 581.2 H2017.4 M2001 651.4 H2017.4 M1451.5 593 V608 M1451.5 625.5 V640.7 M2025 592 V608 M2025 625.5 V640.7 " stroke="#b3b8bd" stroke-width="1.8" fill="none"/><path d="M1718 615 H1756 M1737 596 V634" stroke="#b3b8bd" stroke-width="1.8" fill="none"/></svg>
<span class="t" style="left:2092.20px;top:126.31px;font-size:23.5px;line-height:23.5px;color:#9aa2aa;transform:scaleX(0.9639);">OUTPUT</span>
<div style="left:2092px;top:160px;width:576px;height:2px;background:#38424c;"></div>
<div style="left:2676px;top:162px;width:14px;height:1310.5px;background:#56616c;border-radius:7px"></div>
<div style="left:2092px;top:182px;width:576px;height:350px;background:#1e232b;border-radius:15px"></div>
<div style="left:2092px;top:242px;width:576px;height:2px;background:#343e48;"></div>
<div style="left:2596px;top:182px;width:2px;height:61px;background:#343e48;"></div>
<div style="left:2092px;top:470px;width:576px;height:2px;background:#343e48;"></div>
<span class="t" style="left:2116.60px;top:199.38px;font-size:24px;line-height:24px;color:#a7adb4;transform:scaleX(1.0395);">Location</span>
<span class="t" style="left:2260.30px;top:201.68px;font-size:24px;line-height:24px;color:#c9cdd1;transform:scaleX(1.0000);letter-spacing:2.55px;">...</span>
<span class="t" style="left:2284.90px;top:201.68px;font-size:24px;line-height:24px;color:#c9cdd1;transform:scaleX(1.0551);">/arnaudcueff/Desktop/</span>
<svg style="left:2092px;top:182px;" width="576" height="62" viewBox="0 0 576 62"><circle cx="484" cy="22.4" r="2.2" fill="#b9bec5"/><circle cx="484" cy="30.3" r="2.2" fill="#b9bec5"/><circle cx="484" cy="38.2" r="2.2" fill="#b9bec5"/><path d="M530.6 20.6 L551.4 41.6 M551.4 20.6 L530.6 41.6" stroke="#b9bec5" stroke-width="2.1" fill="none"/></svg>
<svg style="left:2110px;top:290.5px;" width="90" height="104" viewBox="0 0 90 104"><path d="M5 8.1 a3 3 0 0 1 3 -3 H58 L79 27 V95.4 a3 3 0 0 1 -3 3 H8 a3 3 0 0 1 -3 -3 Z" fill="none" stroke="#ffffff" stroke-width="2.2" stroke-linejoin="round"/><path d="M58 5.1 V24 a3 3 0 0 0 3 3 H79" fill="none" stroke="#ffffff" stroke-width="2.2" stroke-linejoin="round"/></svg>
<span class="t" style="left:2124.00px;top:334.18px;font-size:24px;line-height:24px;color:#f4f4f4;transform:scaleX(0.9344);-webkit-text-stroke-width:0.4px;">FLAC</span>
<svg style="left:2206px;top:334.5px;" width="24" height="16" viewBox="0 0 24 16"><path d="M4.7 4.6 L12 10.9 L19.3 4.6" fill="none" stroke="#56616c" stroke-width="3.2" stroke-linecap="round" stroke-linejoin="round"/></svg>
<span class="t" style="left:2121.60px;top:489.38px;font-size:24px;line-height:24px;color:#a7adb4;transform:scaleX(1.0365);">Naming</span>
<div style="left:2232px;top:478.4px;width:328px;height:43.6px;border:2px solid #49545e;border-radius:2px;"></div>
<span class="t" style="left:2240.10px;top:491.38px;font-size:24px;line-height:24px;color:#f2f2f2;transform:scaleX(1.0776);-webkit-text-stroke-width:0.4px;">glipd</span>
<svg style="left:2580px;top:474px;" width="80" height="44" viewBox="0 0 80 44"><path d="M6.95 19.8 V38.1" stroke="#b4b9c0" stroke-width="2.4" fill="none"/><path d="M9.8 28.95 L20.2 22.8 V35.3 Z" fill="#b4b9c0"/><path d="M20 28.95 H30" stroke="#b4b9c0" stroke-width="2.4" fill="none"/><path d="M69 19.8 V38.1" stroke="#2f8cff" stroke-width="2.4" fill="none"/><path d="M66.3 28.95 L55.7 22.8 V35.3 Z" fill="#2f8cff"/><path d="M56 28.95 H46" stroke="#2f8cff" stroke-width="2.4" fill="none"/></svg>
<span class="t" style="left:2254.30px;top:265.38px;font-size:24px;line-height:24px;color:#a7adb4;transform:scaleX(1.0456);">Bit depth</span>
<span class="t" style="left:2418.80px;top:265.38px;font-size:24px;line-height:24px;color:#a7adb4;transform:scaleX(1.0378);">Dither</span>
<div style="left:2254px;top:294.2px;width:145.6px;height:37.4px;border:2px solid #49545e;border-radius:2px;"></div>
<span class="t" style="left:2263.50px;top:304.81px;font-size:23.5px;line-height:23.5px;color:#ffffff;transform:scaleX(1.0962);-webkit-text-stroke-width:0.4px;">24-bit</span>
<svg style="left:2372.1px;top:307.9px;" width="24" height="16" viewBox="0 0 24 16"><path d="M4.7 4.6 L12 10.9 L19.3 4.6" fill="none" stroke="#56616c" stroke-width="3.2" stroke-linecap="round" stroke-linejoin="round"/></svg>
<div style="left:2419.5px;top:294.2px;width:228.3px;height:37.4px;border:2px solid #49545e;border-radius:2px;"></div>
<div style="left:2424px;top:300.81px;width:185.7px;height:33.5px;overflow:hidden"><span class="t" style="left:5.70px;top:4px;font-size:23.5px;line-height:23.5px;color:#ffffff;transform:scaleX(1.0350);-webkit-text-stroke-width:0.4px;">White noise (TPDF)</span></div>
<svg style="left:2620.3px;top:307.9px;" width="24" height="16" viewBox="0 0 24 16"><path d="M4.7 4.6 L12 10.9 L19.3 4.6" fill="none" stroke="#56616c" stroke-width="3.2" stroke-linecap="round" stroke-linejoin="round"/></svg>
<span class="t" style="left:2254.10px;top:357.38px;font-size:24px;line-height:24px;color:#a7adb4;transform:scaleX(1.0071);">Compression level</span>
<div style="left:2265.8px;top:399.9px;width:359.2px;height:14.2px;background:#2f8cff;border-radius:7.1px 0 0 7.1px"></div>
<div style="left:2265.2px;top:406.9px;width:2px;height:13.2px;background:#2f8cff;"></div>
<div style="left:2309px;top:411.9px;width:2px;height:8.2px;background:#2f8cff;"></div>
<div style="left:2355px;top:411.9px;width:2px;height:8.2px;background:#2f8cff;"></div>
<div style="left:2399px;top:411.9px;width:2px;height:8.2px;background:#2f8cff;"></div>
<div style="left:2445px;top:411.9px;width:2px;height:8.2px;background:#2f8cff;"></div>
<div style="left:2489px;top:411.9px;width:2px;height:8.2px;background:#2f8cff;"></div>
<div style="left:2533px;top:411.9px;width:2px;height:8.2px;background:#2f8cff;"></div>
<div style="left:2579px;top:411.9px;width:2px;height:8.2px;background:#2f8cff;"></div>
<svg style="left:2611px;top:392.9px;" width="28" height="28" viewBox="0 0 28 28"><circle cx="14" cy="14" r="13" fill="#ebebeb"/><circle cx="14" cy="14" r="3.1" fill="#55606b"/></svg>
<span class="t" style="left:2259.52px;top:433.33px;font-size:23px;line-height:23px;color:#a7adb4;transform:scaleX(1.0000);">0</span>
<span class="t" style="left:2303.72px;top:433.33px;font-size:23px;line-height:23px;color:#a7adb4;transform:scaleX(1.0000);">1</span>
<span class="t" style="left:2349.72px;top:433.33px;font-size:23px;line-height:23px;color:#a7adb4;transform:scaleX(1.0000);">2</span>
<span class="t" style="left:2393.72px;top:433.33px;font-size:23px;line-height:23px;color:#a7adb4;transform:scaleX(1.0000);">3</span>
<span class="t" style="left:2439.72px;top:433.33px;font-size:23px;line-height:23px;color:#a7adb4;transform:scaleX(1.0000);">4</span>
<span class="t" style="left:2483.72px;top:433.33px;font-size:23px;line-height:23px;color:#a7adb4;transform:scaleX(1.0000);">5</span>
<span class="t" style="left:2527.72px;top:433.33px;font-size:23px;line-height:23px;color:#a7adb4;transform:scaleX(1.0000);">6</span>
<span class="t" style="left:2573.72px;top:433.33px;font-size:23px;line-height:23px;color:#a7adb4;transform:scaleX(1.0000);">7</span>
<span class="t" style="left:2618.72px;top:433.33px;font-size:23px;line-height:23px;color:#a7adb4;transform:scaleX(1.0000);">8</span>
<div style="left:2092px;top:552px;width:576px;height:350px;background:#1e232b;border-radius:15px"></div>
<div style="left:2092px;top:612px;width:576px;height:2px;background:#343e48;"></div>
<div style="left:2596px;top:552px;width:2px;height:61px;background:#343e48;"></div>
<div style="left:2092px;top:840px;width:576px;height:2px;background:#343e48;"></div>
<span class="t" style="left:2116.60px;top:569.38px;font-size:24px;line-height:24px;color:#a7adb4;transform:scaleX(1.0395);">Location</span>
<span class="t" style="left:2254.80px;top:570.68px;font-size:24px;line-height:24px;color:#a7adb4;transform:scaleX(1.0103);">Choose location...</span>
<svg style="left:2092px;top:552px;" width="576" height="62" viewBox="0 0 576 62"><circle cx="484" cy="22.4" r="2.2" fill="#b9bec5"/><circle cx="484" cy="30.3" r="2.2" fill="#b9bec5"/><circle cx="484" cy="38.2" r="2.2" fill="#b9bec5"/><path d="M530.6 20.6 L551.4 41.6 M551.4 20.6 L530.6 41.6" stroke="#b9bec5" stroke-width="2.1" fill="none"/></svg>
<svg style="left:2110px;top:660.5px;" width="90" height="104" viewBox="0 0 90 104"><path d="M5 8.1 a3 3 0 0 1 3 -3 H58 L79 27 V95.4 a3 3 0 0 1 -3 3 H8 a3 3 0 0 1 -3 -3 Z" fill="none" stroke="#ffffff" stroke-width="2.2" stroke-linejoin="round"/><path d="M58 5.1 V24 a3 3 0 0 0 3 3 H79" fill="none" stroke="#ffffff" stroke-width="2.2" stroke-linejoin="round"/></svg>
<span class="t" style="left:2126.50px;top:704.18px;font-size:24px;line-height:24px;color:#f4f4f4;transform:scaleX(0.9969);-webkit-text-stroke-width:0.4px;">WAV</span>
<svg style="left:2206px;top:704.5px;" width="24" height="16" viewBox="0 0 24 16"><path d="M4.7 4.6 L12 10.9 L19.3 4.6" fill="none" stroke="#56616c" stroke-width="3.2" stroke-linecap="round" stroke-linejoin="round"/></svg>
<span class="t" style="left:2121.60px;top:859.38px;font-size:24px;line-height:24px;color:#a7adb4;transform:scaleX(1.0365);">Naming</span>
<div style="left:2232px;top:848.4px;width:328px;height:43.6px;border:2px solid #49545e;border-radius:2px;"></div>
<svg style="left:2580px;top:844px;" width="80" height="44" viewBox="0 0 80 44"><path d="M6.95 19.8 V38.1" stroke="#b4b9c0" stroke-width="2.4" fill="none"/><path d="M9.8 28.95 L20.2 22.8 V35.3 Z" fill="#b4b9c0"/><path d="M20 28.95 H30" stroke="#b4b9c0" stroke-width="2.4" fill="none"/><path d="M69 19.8 V38.1" stroke="#2f8cff" stroke-width="2.4" fill="none"/><path d="M66.3 28.95 L55.7 22.8 V35.3 Z" fill="#2f8cff"/><path d="M56 28.95 H46" stroke="#2f8cff" stroke-width="2.4" fill="none"/></svg>
<span class="t" style="left:2254.30px;top:635.38px;font-size:24px;line-height:24px;color:#a7adb4;transform:scaleX(1.0456);">Bit depth</span>
<span class="t" style="left:2418.80px;top:635.38px;font-size:24px;line-height:24px;color:#a7adb4;transform:scaleX(1.0378);">Dither</span>
<div style="left:2254px;top:664.2px;width:145.6px;height:37.4px;border:2px solid #49545e;border-radius:2px;"></div>
<div style="left:2258.5px;top:670.81px;width:103.8px;height:33.5px;overflow:hidden"><span class="t" style="left:5.60px;top:4px;font-size:23.5px;line-height:23.5px;color:#ffffff;transform:scaleX(1.0700);-webkit-text-stroke-width:0.4px;">from original</span></div>
<svg style="left:2372.1px;top:677.9px;" width="24" height="16" viewBox="0 0 24 16"><path d="M4.7 4.6 L12 10.9 L19.3 4.6" fill="none" stroke="#56616c" stroke-width="3.2" stroke-linecap="round" stroke-linejoin="round"/></svg>
<div style="left:2419.5px;top:664.2px;width:228.3px;height:37.4px;border:2px solid #49545e;border-radius:2px;"></div>
<div style="left:2424px;top:670.81px;width:185.7px;height:33.5px;overflow:hidden"><span class="t" style="left:5.70px;top:4px;font-size:23.5px;line-height:23.5px;color:#ffffff;transform:scaleX(1.0350);-webkit-text-stroke-width:0.4px;">White noise (TPDF)</span></div>
<svg style="left:2620.3px;top:677.9px;" width="24" height="16" viewBox="0 0 24 16"><path d="M4.7 4.6 L12 10.9 L19.3 4.6" fill="none" stroke="#56616c" stroke-width="3.2" stroke-linecap="round" stroke-linejoin="round"/></svg>
<div style="left:2254.3px;top:722.3px;width:25.6px;height:25.6px;border:2px solid #f0f0f0;border-radius:3px;"></div>
<span class="t" style="left:2292.60px;top:726.51px;font-size:23.5px;line-height:23.5px;color:#f0f0f0;transform:scaleX(0.9143);-webkit-text-stroke-width:0.4px;">BWF</span>
<div style="left:2254.3px;top:768.5px;width:29.6px;height:29.6px;background:#ebebeb;border-radius:3px"></div>
<svg style="left:2254.3px;top:768.5px;" width="30" height="30" viewBox="0 0 30 30"><path d="M7.3 15.6 L12.6 21.4 L22.2 9.4" fill="none" stroke="#1e232b" stroke-width="2.2"/></svg>
<span class="t" style="left:2291.60px;top:772.81px;font-size:23.5px;line-height:23.5px;color:#f0f0f0;transform:scaleX(1.0476);-webkit-text-stroke-width:0.4px;">Preserve non-audio data</span>
<div style="left:2092px;top:922px;width:576px;height:350px;background:#1e232b;border-radius:15px"></div>
<div style="left:2092px;top:982px;width:576px;height:2px;background:#343e48;"></div>
<div style="left:2596px;top:922px;width:2px;height:61px;background:#343e48;"></div>
<div style="left:2092px;top:1210px;width:576px;height:2px;background:#343e48;"></div>
<span class="t" style="left:2116.60px;top:939.38px;font-size:24px;line-height:24px;color:#a7adb4;transform:scaleX(1.0395);">Location</span>
<span class="t" style="left:2260.30px;top:941.68px;font-size:24px;line-height:24px;color:#c9cdd1;transform:scaleX(1.0000);letter-spacing:2.55px;">...</span>
<span class="t" style="left:2284.90px;top:941.68px;font-size:24px;line-height:24px;color:#c9cdd1;transform:scaleX(1.0551);">/arnaudcueff/Desktop/</span>
<svg style="left:2092px;top:922px;" width="576" height="62" viewBox="0 0 576 62"><circle cx="484" cy="22.4" r="2.2" fill="#b9bec5"/><circle cx="484" cy="30.3" r="2.2" fill="#b9bec5"/><circle cx="484" cy="38.2" r="2.2" fill="#b9bec5"/><path d="M530.6 20.6 L551.4 41.6 M551.4 20.6 L530.6 41.6" stroke="#b9bec5" stroke-width="2.1" fill="none"/></svg>
<svg style="left:2110px;top:1030.5px;" width="90" height="104" viewBox="0 0 90 104"><path d="M5 8.1 a3 3 0 0 1 3 -3 H58 L79 27 V95.4 a3 3 0 0 1 -3 3 H8 a3 3 0 0 1 -3 -3 Z" fill="none" stroke="#ffffff" stroke-width="2.2" stroke-linejoin="round"/><path d="M58 5.1 V24 a3 3 0 0 0 3 3 H79" fill="none" stroke="#ffffff" stroke-width="2.2" stroke-linejoin="round"/></svg>
<span class="t" style="left:2127.80px;top:1074.18px;font-size:24px;line-height:24px;color:#f4f4f4;transform:scaleX(0.9935);-webkit-text-stroke-width:0.4px;">MP3</span>
<svg style="left:2206px;top:1074.5px;" width="24" height="16" viewBox="0 0 24 16"><path d="M4.7 4.6 L12 10.9 L19.3 4.6" fill="none" stroke="#56616c" stroke-width="3.2" stroke-linecap="round" stroke-linejoin="round"/></svg>
<span class="t" style="left:2121.60px;top:1229.38px;font-size:24px;line-height:24px;color:#a7adb4;transform:scaleX(1.0365);">Naming</span>
<div style="left:2232px;top:1218.4px;width:328px;height:43.6px;border:2px solid #49545e;border-radius:2px;"></div>
<svg style="left:2580px;top:1214px;" width="80" height="44" viewBox="0 0 80 44"><path d="M6.95 19.8 V38.1" stroke="#b4b9c0" stroke-width="2.4" fill="none"/><path d="M9.8 28.95 L20.2 22.8 V35.3 Z" fill="#b4b9c0"/><path d="M20 28.95 H30" stroke="#b4b9c0" stroke-width="2.4" fill="none"/><path d="M69 19.8 V38.1" stroke="#2f8cff" stroke-width="2.4" fill="none"/><path d="M66.3 28.95 L55.7 22.8 V35.3 Z" fill="#2f8cff"/><path d="M56 28.95 H46" stroke="#2f8cff" stroke-width="2.4" fill="none"/></svg>
<span class="t" style="left:2254.30px;top:1005.68px;font-size:24px;line-height:24px;color:#a7adb4;transform:scaleX(1.0584);">Quality</span>
<span class="t" style="left:2527.80px;top:1005.68px;font-size:24px;line-height:24px;color:#a7adb4;transform:scaleX(0.9885);">~165 kbps</span>
<div style="left:2266px;top:1047.9px;width:358.2px;height:14.2px;background:#56616c;border-radius:7.1px"></div>
<div style="left:2266px;top:1047.9px;width:199px;height:14.2px;background:#2f8cff;border-radius:7.1px 0 0 7.1px"></div>
<div style="left:2265.4px;top:1054.9px;width:2px;height:13.2px;background:#2f8cff;"></div>
<div style="left:2305px;top:1059.9px;width:2px;height:8.2px;background:#2f8cff;"></div>
<div style="left:2345px;top:1059.9px;width:2px;height:8.2px;background:#2f8cff;"></div>
<div style="left:2385px;top:1059.9px;width:2px;height:8.2px;background:#2f8cff;"></div>
<div style="left:2425px;top:1059.9px;width:2px;height:8.2px;background:#2f8cff;"></div>
<div style="left:2503px;top:1059.9px;width:2px;height:8.2px;background:#56616c;"></div>
<div style="left:2543px;top:1059.9px;width:2px;height:8.2px;background:#56616c;"></div>
<div style="left:2583px;top:1059.9px;width:2px;height:8.2px;background:#56616c;"></div>
<div style="left:2623px;top:1054.9px;width:2px;height:13.2px;background:#56616c;"></div>
<svg style="left:2451px;top:1040.9px;" width="28" height="28" viewBox="0 0 28 28"><circle cx="14" cy="14" r="13" fill="#ebebeb"/><circle cx="14" cy="14" r="3.1" fill="#55606b"/></svg>
<span class="t" style="left:2259.72px;top:1081.33px;font-size:23px;line-height:23px;color:#a7adb4;transform:scaleX(1.0000);">9</span>
<span class="t" style="left:2299.72px;top:1081.33px;font-size:23px;line-height:23px;color:#a7adb4;transform:scaleX(1.0000);">8</span>
<span class="t" style="left:2339.72px;top:1081.33px;font-size:23px;line-height:23px;color:#a7adb4;transform:scaleX(1.0000);">7</span>
<span class="t" style="left:2379.72px;top:1081.33px;font-size:23px;line-height:23px;color:#a7adb4;transform:scaleX(1.0000);">6</span>
<span class="t" style="left:2419.72px;top:1081.33px;font-size:23px;line-height:23px;color:#a7adb4;transform:scaleX(1.0000);">5</span>
<span class="t" style="left:2458.72px;top:1081.33px;font-size:23px;line-height:23px;color:#a7adb4;transform:scaleX(1.0000);">4</span>
<span class="t" style="left:2497.72px;top:1081.33px;font-size:23px;line-height:23px;color:#a7adb4;transform:scaleX(1.0000);">3</span>
<span class="t" style="left:2537.72px;top:1081.33px;font-size:23px;line-height:23px;color:#a7adb4;transform:scaleX(1.0000);">2</span>
<span class="t" style="left:2577.72px;top:1081.33px;font-size:23px;line-height:23px;color:#a7adb4;transform:scaleX(1.0000);">1</span>
<span class="t" style="left:2617.92px;top:1081.33px;font-size:23px;line-height:23px;color:#a7adb4;transform:scaleX(1.0000);">0</span>
<span class="t" style="left:2254.30px;top:1119.88px;font-size:24px;line-height:24px;color:#a7adb4;transform:scaleX(1.0518);">Bit rate control</span>
<div style="left:2254px;top:1148.5px;width:315.4px;height:37.4px;border:2px solid #49545e;border-radius:2px;"></div>
<span class="t" style="left:2263.50px;top:1159.11px;font-size:23.5px;line-height:23.5px;color:#ffffff;transform:scaleX(1.0302);-webkit-text-stroke-width:0.4px;">Variable bit rate (VBR)</span>
<svg style="left:2541.9px;top:1162.2px;" width="24" height="16" viewBox="0 0 24 16"><path d="M4.7 4.6 L12 10.9 L19.3 4.6" fill="none" stroke="#56616c" stroke-width="3.2" stroke-linecap="round" stroke-linejoin="round"/></svg>
<svg style="left:0;top:0" width="2694" height="1582" viewBox="0 0 2694 1582"><path d="M2100 1293 H2116 M2132 1293 H2148 M2164 1293 H2180 M2196 1293 H2212 M2228 1293 H2244 M2260 1293 H2276 M2292 1293 H2308 M2324 1293 H2340 M2356 1293 H2372 M2388 1293 H2404 M2420 1293 H2436 M2452 1293 H2468 M2484 1293 H2500 M2516 1293 H2532 M2548 1293 H2564 M2580 1293 H2596 M2612 1293 H2628 M2644 1293 H2660 M2093 1297 V1312 M2667 1304 V1319 M2093 1329 V1344 M2667 1336 V1351 M2093 1361 V1376 M2667 1368 V1383 M2093 1393 V1408 M2667 1400 V1415 M2093 1425 V1440 M2667 1432 V1447 M2093 1457 V1472 M2667 1464 V1479 M2093 1489 V1504 M2667 1496 V1511 M2093 1521 V1536 M2667 1528 V1543 M2093 1553 V1568 M2667 1560 V1575 " stroke="#4a545e" stroke-width="1.8" fill="none"/><path d="M2360 1485 H2398 M2379 1466 V1504" stroke="#4a545e" stroke-width="1.6" fill="none"/></svg>
</div></body></html>
